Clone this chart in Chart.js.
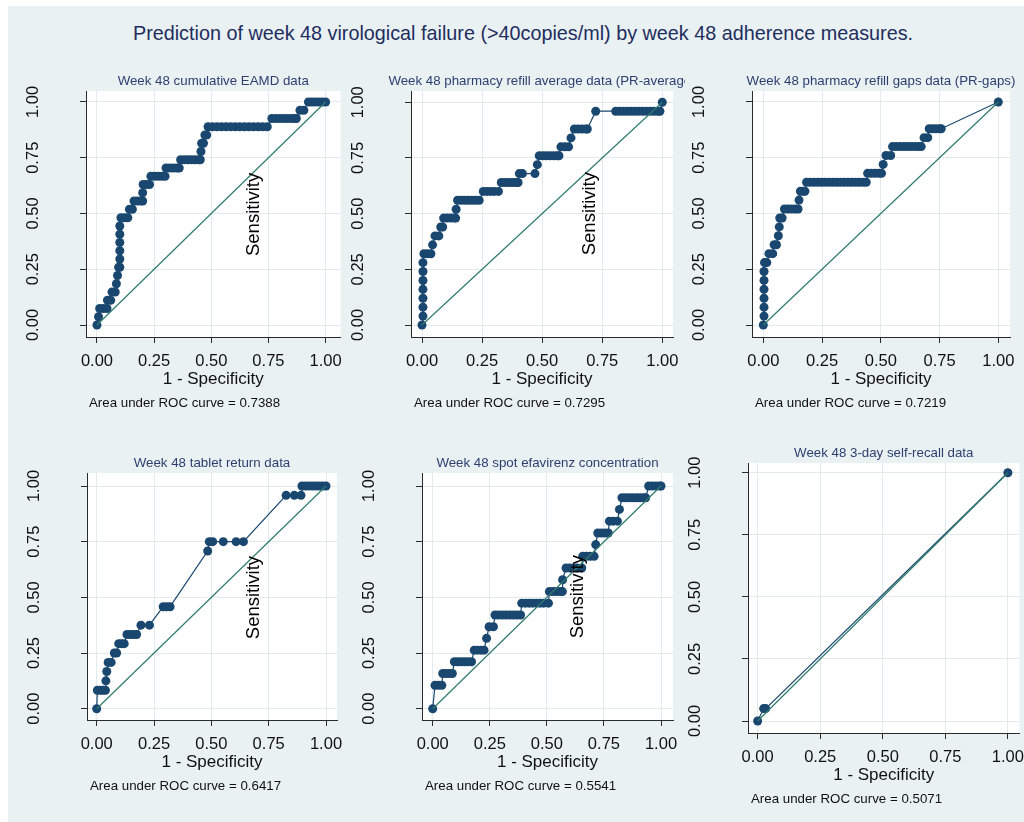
<!DOCTYPE html>
<html lang="en">
<head>
<meta charset="UTF-8">
<title>ROC curves - week 48 adherence measures</title>
<script src="https://cdn.jsdelivr.net/npm/chart.js"></script>
<style>
  body { margin: 0; width: 1024px; height: 822px; overflow: hidden; position: relative; background: #fff;
         font-family: 'Liberation Sans', Arial, sans-serif; }
  #bg { position: absolute; left: 8px; top: 6px; right: 0; bottom: 0; background: #e9f1f3; }
  h1 { position: absolute; left: 22px; right: 0; top: 21px; margin: 0; text-align: center; font-size: 19.8px;
       font-weight: normal; line-height: 24px; color: #1e2d5e; }
  canvas { position: absolute; }
</style>
</head>
<body>
<div id="bg"></div>
<h1>Prediction of week 48 virological failure (&gt;40copies/ml) by week 48 adherence measures.</h1>
<canvas id="c1"></canvas>
<canvas id="c2"></canvas>
<canvas id="c3"></canvas>
<canvas id="c4"></canvas>
<canvas id="c5"></canvas>
<canvas id="c6"></canvas>

<script>
// each step: [sensitivity, [1 - specificity values at that sensitivity]]
const eamdSteps = [
  [0.000, [0]],
  [0.037, [0.007]],
  [0.074, [0.012, 0.028, 0.044]],
  [0.111, [0.046, 0.060]],
  [0.148, [0.066, 0.080]],
  [0.185, [0.085]],
  [0.222, [0.090]],
  [0.259, [0.095, 0.100]],
  [0.296, [0.100]],
  [0.333, [0.100]],
  [0.370, [0.100]],
  [0.407, [0.100]],
  [0.444, [0.100]],
  [0.481, [0.105, 0.120, 0.135]],
  [0.519, [0.142, 0.155]],
  [0.556, [0.162, 0.176, 0.190, 0.200]],
  [0.593, [0.200]],
  [0.630, [0.202, 0.216, 0.230]],
  [0.667, [0.236, 0.252, 0.268, 0.284, 0.298]],
  [0.704, [0.302, 0.318, 0.334, 0.350, 0.360]],
  [0.741, [0.366, 0.382, 0.398, 0.414, 0.430, 0.446, 0.452]],
  [0.778, [0.455]],
  [0.815, [0.458, 0.466]],
  [0.852, [0.472, 0.480]],
  [0.889, [0.486, 0.505, 0.525, 0.545, 0.565, 0.585, 0.605, 0.625, 0.645, 0.665, 0.685, 0.705, 0.725, 0.745]],
  [0.926, [0.765, 0.782, 0.799, 0.816, 0.833, 0.850, 0.866, 0.872]],
  [0.963, [0.888, 0.905]],
  [1.000, [0.925, 0.940, 0.955, 0.970, 0.985, 1]]
];

const prAverageSteps = [
  [0.00, [0]],
  [0.04, [0.004]], [0.08, [0.004]], [0.12, [0.004]], [0.16, [0.004]],
  [0.20, [0.004]], [0.24, [0.004]], [0.28, [0.004]],
  [0.32, [0.008, 0.022, 0.037]],
  [0.36, [0.044]],
  [0.40, [0.054, 0.070]],
  [0.44, [0.078, 0.086]],
  [0.48, [0.090, 0.105, 0.120, 0.135, 0.140]],
  [0.52, [0.142]],
  [0.56, [0.148, 0.163, 0.178, 0.193, 0.208, 0.223, 0.238]],
  [0.60, [0.255, 0.270, 0.285, 0.300, 0.318]],
  [0.64, [0.330, 0.345, 0.360, 0.375, 0.390, 0.400]],
  [0.68, [0.405, 0.418, 0.470]],
  [0.72, [0.480]],
  [0.76, [0.488, 0.503, 0.518, 0.533, 0.548, 0.563, 0.570]],
  [0.80, [0.578, 0.594, 0.610]],
  [0.84, [0.620]],
  [0.88, [0.634, 0.650, 0.666, 0.682, 0.688]],
  [0.96, [0.723, 0.806, 0.822, 0.838, 0.854, 0.870, 0.886, 0.902, 0.918, 0.934, 0.950, 0.966, 0.982, 0.990]],
  [1.00, [1]]
];

const prGapsSteps = [
  [0.00, [0]],
  [0.04, [0.003]], [0.08, [0.003]], [0.12, [0.003]], [0.16, [0.003]], [0.20, [0.003]], [0.24, [0.003]],
  [0.28, [0.005, 0.015]],
  [0.32, [0.024, 0.040]],
  [0.36, [0.046, 0.056]],
  [0.40, [0.064]],
  [0.44, [0.068]],
  [0.48, [0.070, 0.080]],
  [0.52, [0.090, 0.105, 0.120, 0.135, 0.148]],
  [0.56, [0.152]],
  [0.60, [0.158, 0.170, 0.177]],
  [0.64, [0.184, 0.200, 0.216, 0.232, 0.248, 0.264, 0.280, 0.296, 0.312, 0.328, 0.344, 0.360, 0.376, 0.392, 0.408, 0.424, 0.438]],
  [0.68, [0.444, 0.460, 0.476, 0.492, 0.503]],
  [0.72, [0.510]],
  [0.76, [0.522, 0.542]],
  [0.80, [0.550, 0.566, 0.582, 0.598, 0.614, 0.630, 0.646, 0.662, 0.672]],
  [0.84, [0.684, 0.700]],
  [0.88, [0.706, 0.720, 0.735, 0.750, 0.757]],
  [1.00, [1]]
];

const tabletSteps = [
  [0.000, [0]],
  [0.083, [0.003, 0.015, 0.027, 0.038]],
  [0.125, [0.040]],
  [0.167, [0.044]],
  [0.208, [0.050, 0.063]],
  [0.250, [0.077, 0.087]],
  [0.292, [0.096, 0.108, 0.120]],
  [0.333, [0.132, 0.146, 0.160, 0.174]],
  [0.375, [0.193, 0.230]],
  [0.458, [0.290, 0.305, 0.320]],
  [0.708, [0.484]],
  [0.750, [0.491, 0.506, 0.552, 0.608, 0.640]],
  [0.958, [0.826, 0.862, 0.891]],
  [1.000, [0.895, 0.910, 0.925, 0.940, 0.955, 0.970, 0.985, 1]]
];

const efavirenzSteps = [
  [0.000, [0]],
  [0.105, [0.010, 0.025, 0.040]],
  [0.158, [0.044, 0.058, 0.072, 0.086]],
  [0.211, [0.095, 0.110, 0.125, 0.140, 0.155, 0.170]],
  [0.263, [0.182, 0.197, 0.212, 0.225]],
  [0.316, [0.236]],
  [0.368, [0.247, 0.266]],
  [0.421, [0.273, 0.289, 0.305, 0.321, 0.337, 0.353, 0.369, 0.385]],
  [0.474, [0.390, 0.406, 0.422, 0.438, 0.454, 0.470, 0.486, 0.507]],
  [0.526, [0.511, 0.527, 0.543, 0.559, 0.568]],
  [0.579, [0.569]],
  [0.632, [0.584, 0.600, 0.616, 0.632, 0.653]],
  [0.684, [0.657, 0.673, 0.689, 0.707]],
  [0.737, [0.714]],
  [0.789, [0.723, 0.739, 0.755, 0.769]],
  [0.842, [0.774, 0.790, 0.809]],
  [0.895, [0.818]],
  [0.947, [0.829, 0.845, 0.861, 0.877, 0.893, 0.909, 0.925, 0.933]],
  [1.000, [0.946, 0.962, 0.978, 0.994, 1]]
];

const recallSteps = [
  [0.00, [0]],
  [0.05, [0.024, 0.032]],
  [1.00, [1]]
];

const panelTitles = [
  'Week 48 cumulative EAMD data',
  'Week 48 pharmacy refill average data (PR-average)',
  'Week 48 pharmacy refill gaps data (PR-gaps)',
  'Week 48 tablet return data',
  'Week 48 spot efavirenz concentration',
  'Week 48 3-day self-recall data'
];
const aucValues = [0.7388, 0.7295, 0.7219, 0.6417, 0.5541, 0.5071];
const tickValues = [0, 0.25, 0.5, 0.75, 1];
const allSteps = [eamdSteps, prAverageSteps, prGapsSteps, tabletSteps, efavirenzSteps, recallSteps];

// page geometry of each panel: canvas box, plot frame [l,t,r,b], pixel of 0 and 1 on each axis
const layout = [
  { box: [8, 62, 345, 420],    frame: [86, 91, 342, 337],   x01: [97, 327],      y01: [325, 102],     sens: [0.687, 0.496] },
  { box: [345, 62, 685, 420],  frame: [411, 91, 673, 337],  x01: [422, 662.3],   y01: [325, 102.3],   sens: [0.700, 0.500] },
  { box: [685, 62, 1024, 420], frame: [752, 91, 1010, 337], x01: [763.3, 998.3], y01: [325, 102],     sens: null },
  { box: [8, 440, 345, 822],   frame: [87, 473, 337, 720],  x01: [96.7, 326],    y01: [708.7, 486],   sens: [0.687, 0.499] },
  { box: [345, 440, 685, 822], frame: [422, 473, 673, 720], x01: [432.7, 661],   y01: [708.7, 486],   sens: [0.636, 0.503] },
  { box: [685, 430, 1024, 822], frame: [748, 463, 1021, 733], x01: [757.7, 1009.3], y01: [721, 472.7], sens: null }
];

const FONT = "'Liberation Sans', Arial, sans-serif";
const navy = '#1a476f';
const refColor = '#2f7b6c';
const gridColor = '#e1eaed';
const axisColor = '#2a2a2a';

const panelText = {
  id: 'panelText',
  beforeDraw(chart) {
    const { ctx, chartArea: a } = chart;
    ctx.save();
    ctx.fillStyle = '#ffffff';
    ctx.fillRect(a.left, a.top, a.right - a.left, a.bottom - a.top);
    ctx.restore();
  },
  afterDraw(chart, args, opts) {
    const { ctx, chartArea: a, scales } = chart;
    ctx.save();
    ctx.font = '13.3px ' + FONT;
    ctx.textBaseline = 'middle';
    ctx.textAlign = 'center';
    ctx.fillStyle = '#2e3f6f';
    ctx.fillText(opts.title, (a.left + a.right) / 2, a.top - 10);
    ctx.textAlign = 'left';
    ctx.fillStyle = '#111';
    ctx.fillText('Area under ROC curve = ' + opts.auc.toFixed(4), a.left + 3, a.bottom + 66);
    if (opts.sens) {
      ctx.font = '18.5px ' + FONT;
      ctx.fillStyle = '#000';
      ctx.translate(scales.x.getPixelForValue(opts.sens[0]), scales.y.getPixelForValue(opts.sens[1]));
      ctx.rotate(-Math.PI / 2);
      ctx.textAlign = 'center';
      ctx.fillText('Sensitivity', 0, 0);
    }
    ctx.restore();
  }
};

function drawPanel(i) {
  const g = layout[i];
  const [bl, bt, br, bb] = g.box;
  const [L, T, R, B] = g.frame;
  const cv = document.getElementById('c' + (i + 1));
  cv.width = br - bl;
  cv.height = bb - bt;
  cv.style.left = bl + 'px';
  cv.style.top = bt + 'px';

  const xu = g.x01[1] - g.x01[0];
  const yu = g.y01[0] - g.y01[1];
  const points = allSteps[i].flatMap(([tpr, fprs]) => fprs.map(f => ({ x: f, y: tpr })));

  new Chart(cv, {
    type: 'scatter',
    data: {
      datasets: [
        { data: [{ x: 0, y: 0 }, { x: 1, y: 1 }], showLine: true, borderColor: refColor, borderWidth: 1.2, pointRadius: 0 },
        { data: points, showLine: true, borderColor: navy, borderWidth: 1.2,
          pointRadius: 4.5, pointBackgroundColor: navy, pointBorderWidth: 0 }
      ]
    },
    options: {
      responsive: false,
      animation: false,
      events: [],
      layout: { padding: { left: 0, top: T - bt, right: br - R, bottom: 0 } },
      plugins: {
        legend: { display: false },
        tooltip: { enabled: false },
        panelText: { title: panelTitles[i], auc: aucValues[i], sens: g.sens }
      },
      scales: {
        x: {
          type: 'linear',
          min: (L - g.x01[0]) / xu,
          max: (R - g.x01[0]) / xu,
          afterBuildTicks: s => { s.ticks = tickValues.map(v => ({ value: v })); },
          afterFit: s => { s.height = bb - B; s.paddingLeft = 0; s.paddingRight = 0; },
          grid: { color: gridColor, tickColor: axisColor, tickLength: 6 },
          border: { color: axisColor, width: 1 },
          ticks: { autoSkip: false, maxRotation: 0, minRotation: 0, padding: 9, color: '#111',
                   font: { family: FONT, size: 16.5 }, callback: v => Number(v).toFixed(2) },
          title: { display: true, text: '1 - Specificity', color: '#111', font: { family: FONT, size: 17 },
                   padding: { top: 0, bottom: (bb - B) - 42 - 10.2 } }
        },
        y: {
          type: 'linear',
          min: (g.y01[0] - B) / yu,
          max: (g.y01[0] - T) / yu,
          afterBuildTicks: s => { s.ticks = tickValues.map(v => ({ value: v })); },
          afterFit: s => { s.width = L - bl; s.paddingTop = 0; s.paddingBottom = 0; },
          grid: { color: gridColor, tickColor: axisColor, tickLength: 6 },
          border: { color: axisColor, width: 1 },
          ticks: { autoSkip: false, minRotation: 90, maxRotation: 90, crossAlign: 'center', padding: 30,
                   color: '#111', font: { family: FONT, size: 16.5 }, callback: v => Number(v).toFixed(2) }
        }
      }
    },
    plugins: [panelText]
  });
}

for (let i = 0; i < layout.length; i++) drawPanel(i);
</script>
</body>
</html>
